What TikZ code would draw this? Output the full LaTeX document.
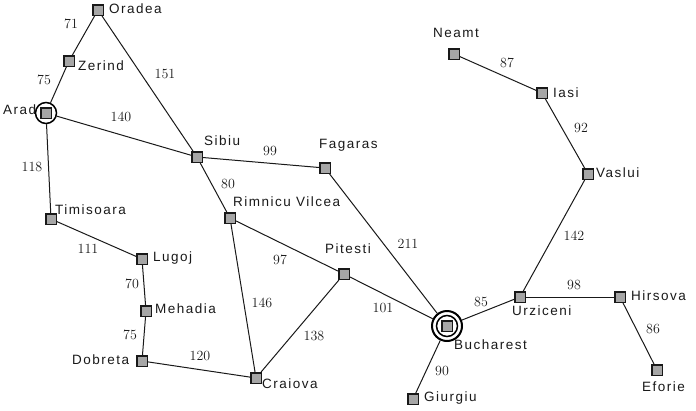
\documentclass[tikz,border=0pt]{standalone}
\usepackage{fontspec}
\setsansfont[LetterSpace=11]{Liberation Sans}
\usepackage{tikz}
\tikzset{
  city/.style={draw=black!90, fill=black!35, line width=1.5pt, minimum size=10.5pt, inner sep=0pt},
  cityring/.style={draw=black, line width=1.5pt, circle, minimum size=21pt, inner sep=0pt},
  road/.style={line width=1pt, black!90},
  citylabel/.style={font=\sffamily\fontsize{13.5}{15}\selectfont, inner sep=0pt, text=black!90, anchor=west},
  distlabel/.style={font=\fontsize{14}{16}\selectfont, inner sep=0pt, text=black!90}
}
\begin{document}
\begin{tikzpicture}[x=1pt, y=-1pt]
        \useasboundingbox (0,0) rectangle (696,410);
        \node[cityring] (aradring) at (46,113) {};
        \node[cityring, minimum size=30pt, line width=2pt] (bucharestouter) at (447,326) {};
        \node[cityring] (bucharestring) at (447,326) {};
        \node[city] (oradea) at (98,10) {};
        \node[city] (zerind) at (69,61) {};
        \node[city] (arad) at (46,113) {};
        \node[city] (timisoara) at (51,219) {};
        \node[city] (lugoj) at (142,259) {};
        \node[city] (mehadia) at (146,311) {};
        \node[city] (dobreta) at (142,361) {};
        \node[city] (craiova) at (256,378) {};
        \node[city] (rimnicu) at (230,218) {};
        \node[city] (sibiu) at (197,157) {};
        \node[city] (fagaras) at (325,168) {};
        \node[city] (pitesti) at (344,274) {};
        \node[city] (bucharest) at (447,326) {};
        \node[city] (giurgiu) at (413,399) {};
        \node[city] (urziceni) at (520,297) {};
        \node[city] (hirsova) at (620,297) {};
        \node[city] (eforie) at (657,370) {};
        \node[city] (vaslui) at (588,174) {};
        \node[city] (iasi) at (542,93) {};
        \node[city] (neamt) at (454,54) {};
        \draw[road] (oradea) -- (zerind);
        \draw[road] (zerind) -- (aradring);
        \draw[road] (oradea) -- (sibiu);
        \draw[road] (aradring) -- (sibiu);
        \draw[road] (aradring) -- (timisoara);
        \draw[road] (timisoara) -- (lugoj);
        \draw[road] (lugoj) -- (mehadia);
        \draw[road] (mehadia) -- (dobreta);
        \draw[road] (dobreta) -- (craiova);
        \draw[road] (sibiu) -- (fagaras);
        \draw[road] (sibiu) -- (rimnicu);
        \draw[road] (rimnicu) -- (craiova);
        \draw[road] (rimnicu) -- (pitesti);
        \draw[road] (craiova) -- (pitesti);
        \draw[road] (pitesti) -- (bucharestouter);
        \draw[road] (fagaras) -- (bucharestouter);
        \draw[road] (giurgiu) -- (bucharestouter);
        \draw[road] (bucharestouter) -- (urziceni);
        \draw[road] (urziceni) -- (hirsova);
        \draw[road] (hirsova) -- (eforie);
        \draw[road] (urziceni) -- (vaslui);
        \draw[road] (vaslui) -- (iasi);
        \draw[road] (iasi) -- (neamt);
        \node[citylabel] (oradealabel) at (109,9) {Oradea};
        \node[citylabel] (zerindlabel) at (78,66) {Zerind};
        \node[citylabel] (aradlabel) at (3,110) {Arad};
        \node[citylabel] (timisoaralabel) at (55,210) {Timisoara};
        \node[citylabel] (lugojlabel) at (153,258) {Lugoj};
        \node[citylabel] (mehadialabel) at (155,309) {Mehadia};
        \node[citylabel] (dobretalabel) at (72,360) {Dobreta};
        \node[citylabel] (craiovalabel) at (262,384) {Craiova};
        \node[citylabel] (rimniculabel) at (233,202) {Rimnicu Vilcea};
        \node[citylabel] (sibiulabel) at (204,141) {Sibiu};
        \node[citylabel] (fagaraslabel) at (319,145) {Fagaras};
        \node[citylabel] (pitestilabel) at (325,249) {Pitesti};
        \node[citylabel] (bucharestlabel) at (454,345) {Bucharest};
        \node[citylabel] (giurgiulabel) at (424,398) {Giurgiu};
        \node[citylabel] (urzicenilabel) at (512,311) {Urziceni};
        \node[citylabel] (hirsovalabel) at (631,296) {Hirsova};
        \node[citylabel] (eforielabel) at (642,387) {Eforie};
        \node[citylabel] (vasluilabel) at (596,173) {Vaslui};
        \node[citylabel] (iasilabel) at (553,93) {Iasi};
        \node[citylabel] (neamtlabel) at (433,33) {Neamt};
        \node[distlabel] (d71) at (71,24) {71};
        \node[distlabel] (d75a) at (44,80) {75};
        \node[distlabel] (d151) at (165,74) {151};
        \node[distlabel] (d140) at (121,117) {140};
        \node[distlabel] (d118) at (32,167) {118};
        \node[distlabel] (d111) at (88,249) {111};
        \node[distlabel] (d70) at (132,284) {70};
        \node[distlabel] (d75b) at (130,335) {75};
        \node[distlabel] (d120) at (200,356) {120};
        \node[distlabel] (d99) at (270,151) {99};
        \node[distlabel] (d80) at (228,184) {80};
        \node[distlabel] (d146) at (262,303) {146};
        \node[distlabel] (d97) at (280,260) {97};
        \node[distlabel] (d138) at (314,336) {138};
        \node[distlabel] (d101) at (383,308) {101};
        \node[distlabel] (d211) at (408,244) {211};
        \node[distlabel] (d90) at (442,371) {90};
        \node[distlabel] (d85) at (481,302) {85};
        \node[distlabel] (d98) at (574,285) {98};
        \node[distlabel] (d86) at (653,329) {86};
        \node[distlabel] (d142) at (574,236) {142};
        \node[distlabel] (d92) at (581,128) {92};
        \node[distlabel] (d87) at (507,63) {87};
    \end{tikzpicture}
\end{document}
